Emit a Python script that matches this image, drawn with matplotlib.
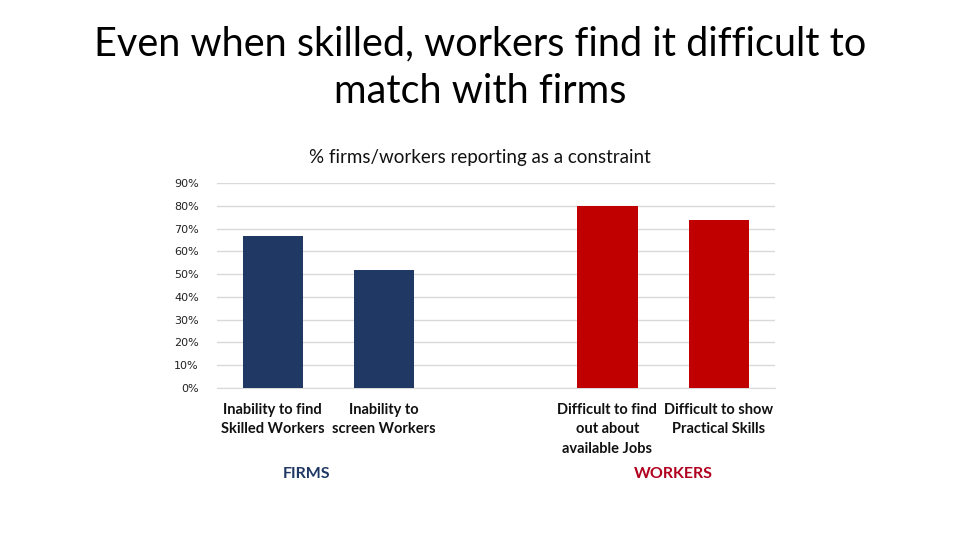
import matplotlib
matplotlib.use("Agg")
import matplotlib.pyplot as plt
import matplotlib.transforms as mtransforms

plt.rcParams["font.family"] = ["Lato", "DejaVu Sans"]

# data
categories = [
    "Inability to find\nSkilled Workers",
    "Inability to\nscreen Workers",
    "",
    "Difficult to find\nout about\navailable Jobs",
    "Difficult to show\nPractical Skills",
]
values = [0.67, 0.52, None, 0.80, 0.74]
groups = ["firms", "firms", None, "workers", "workers"]
group_labels = ["FIRMS", "WORKERS"]
group_label_pos = [0.30, 3.59]
yticks = [0.0, 0.1, 0.2, 0.3, 0.4, 0.5, 0.6, 0.7, 0.8, 0.9]

NAVY = "#1F3864"
RED = "#C00000"
colors = {"firms": NAVY, "workers": RED}
label_colors = [NAVY, "#B0001E"]

fig = plt.figure(figsize=(9.6, 5.4), dpi=100)
ax = fig.add_axes([0.226, 0.282, 0.581, 0.3785])

for i, (v, g) in enumerate(zip(values, groups)):
    if v is None:
        continue
    ax.bar(i, v, width=0.54, color=colors[g], zorder=3)

ax.set_xlim(-0.5, len(categories) - 0.5)
ax.set_ylim(0, 0.9)
ax.set_yticks(yticks)
ax.set_yticklabels([f"{int(round(t * 100))}%" for t in yticks], fontsize=8,
                   color="#222222", family="DejaVu Sans")
ax.set_xticks(range(len(categories)))
ax.set_xticklabels(categories, fontsize=10.5, fontweight="bold", color="#111111", linespacing=1.48)
ax.tick_params(axis="both", length=0)
ax.tick_params(axis="y", pad=13)
ax.tick_params(axis="x", pad=11)
ax.yaxis.grid(True, color="#D9D9D9", linewidth=1, zorder=0)
for s in ["top", "right", "left"]:
    ax.spines[s].set_visible(False)
ax.spines["bottom"].set_color("#D9D9D9")

# chart subtitle sits centred on the slide, not on the axes
fig.text(0.5, 1 - 158 / 540, "% firms/workers reporting as a constraint", ha="center", va="center",
         fontsize=13.5, color="#111111")

trans = mtransforms.blended_transform_factory(ax.transData, fig.transFigure)
for x, lab, c in zip(group_label_pos, group_labels, label_colors):
    ax.text(x, 1 - 474 / 540, lab, transform=trans, ha="center", va="center",
            fontsize=11.5, fontweight="bold", color=c)

fig.text(0.5, 1 - 68 / 540, "Even when skilled, workers find it difficult to\nmatch with firms",
         ha="center", va="center", fontsize=28.5, color="#000000", linespacing=1.36)

fig.savefig("out.png", dpi=100)
